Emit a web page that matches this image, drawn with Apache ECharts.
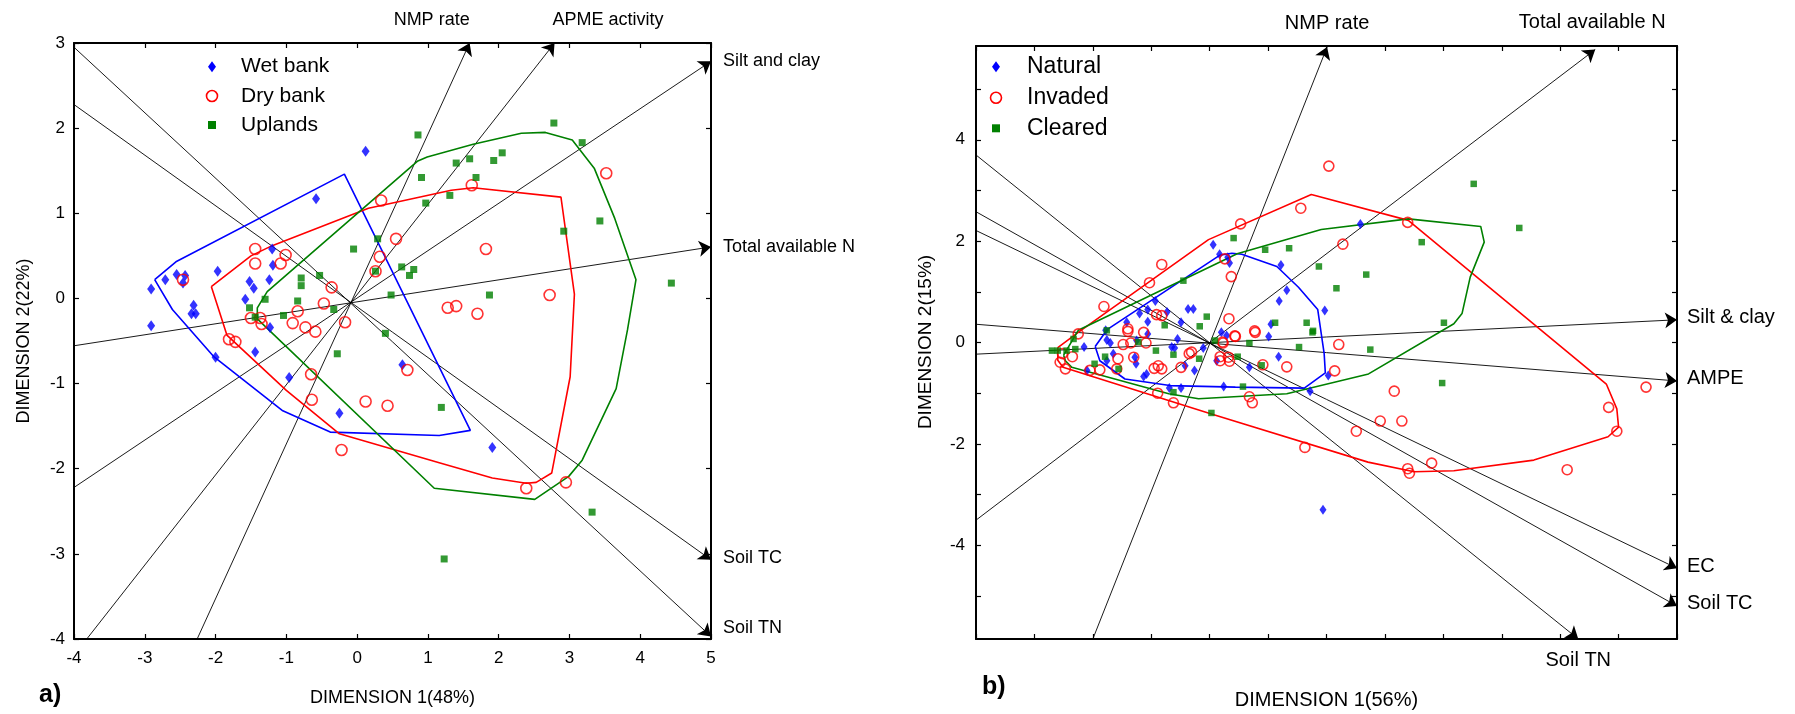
<!DOCTYPE html>
<html><head><meta charset="utf-8">
<script src="https://cdn.jsdelivr.net/npm/echarts@6/dist/echarts.min.js"></script>
<style>html,body{margin:0;padding:0;background:#fff}#c{width:1795px;height:714px}</style>
</head><body><div id="c"></div><script>
// ---------------- Panel a) ----------------
const aXTicks = [-4,-3,-2,-1,0,1,2,3,4,5];
const aYTicks = [-4,-3,-2,-1,0,1,2,3];
const aSeriesNames = ['Wet bank','Dry bank','Uplands'];
const aWetBank = [[-2.91,0.11],[-2.71,0.22],[-2.55,0.28],[-2.43,0.27],[-2.46,0.18],[-1.97,0.32],[-2.31,-0.08],[-2.34,-0.18],[-2.28,-0.18],[-2.91,-0.32],[-1.52,0.20],[-1.46,0.12],[-1.58,-0.01],[-1.24,0.22],[-1.19,0.39],[-1.20,0.58],[-1.23,-0.34],[-2.00,-0.69],[-1.44,-0.63],[-0.96,-0.93],[-0.25,-1.35],[0.64,-0.78],[1.91,-1.75],[0.12,1.73],[-0.58,1.17]];
const aDryBank = [[-2.46,0.22],[-1.44,0.58],[-1.44,0.41],[-1.01,0.51],[-1.08,0.41],[-0.36,0.13],[-0.47,-0.06],[-0.84,-0.15],[-1.50,-0.23],[-1.37,-0.23],[-1.35,-0.30],[-0.91,-0.29],[-0.73,-0.34],[-0.59,-0.39],[-0.17,-0.28],[-1.81,-0.48],[-1.72,-0.51],[-0.65,-0.89],[-0.64,-1.19],[0.12,-1.21],[0.43,-1.26],[0.71,-0.84],[-0.22,-1.78],[2.39,-2.23],[2.95,-2.16],[0.34,1.15],[0.55,0.70],[0.32,0.49],[0.26,0.32],[1.62,1.33],[3.52,1.47],[1.82,0.58],[2.72,0.04],[1.28,-0.11],[1.40,-0.09],[1.70,-0.18]];
const aUplands = [[2.78,2.06],[0.86,1.92],[3.18,1.83],[1.40,1.59],[1.59,1.64],[1.93,1.62],[2.05,1.71],[0.91,1.42],[1.68,1.42],[1.31,1.21],[0.97,1.12],[3.43,0.91],[2.92,0.79],[4.44,0.18],[0.29,0.70],[-0.05,0.58],[0.63,0.37],[0.80,0.34],[0.74,0.27],[0.48,0.04],[1.87,0.04],[0.26,0.32],[-0.79,0.24],[-0.79,0.15],[-0.53,0.27],[-1.30,-0.01],[-1.52,-0.11],[-0.84,-0.03],[-1.04,-0.20],[-1.44,-0.22],[-0.33,-0.13],[-0.28,-0.65],[0.40,-0.41],[1.19,-1.28],[3.32,-2.51],[1.23,-3.06]];
const aHullWet = [[-2.86,0.22],[-2.56,0.43],[-0.18,1.46],[1.60,-1.55],[1.16,-1.61],[-0.38,-1.57],[-1.05,-1.32],[-2.03,-0.68],[-2.61,-0.13],[-2.86,0.22]];
const aHullDry = [[-2.06,0.14],[-1.50,0.50],[-1.20,0.62],[0.16,1.06],[1.33,1.27],[1.64,1.30],[2.88,1.19],[3.07,0.05],[3.01,-0.92],[2.75,-2.05],[2.53,-2.16],[2.39,-2.17],[1.91,-2.11],[1.16,-1.93],[-0.25,-1.59],[-1.00,-1.08],[-1.84,-0.43],[-2.06,0.14]];
const aHullUp = [[-1.41,-0.24],[-1.41,-0.11],[-1.27,0.08],[0.85,1.61],[0.99,1.66],[1.64,1.81],[2.32,1.94],[2.66,1.95],[3.04,1.86],[3.35,1.53],[3.64,0.94],[3.94,0.22],[3.82,-0.37],[3.66,-1.06],[3.18,-1.90],[2.99,-2.09],[2.51,-2.36],[1.09,-2.23],[-1.41,-0.24]];
const aVectorNames = ['NMP rate','APME activity','Silt and clay','Total available N','Soil TC','Soil TN'];
const aVectorStart = [[-2.26,-4],[-3.82,-4],[-4,-2.22],[-4,-0.556],[-4,2.277],[-4,2.95]];
const aVectorEnd = [[1.59,3],[2.79,3],[5,2.785],[5,0.605],[5,-3.07],[5,-3.97]];

// ---------------- Panel b) ----------------
const bXTicks = [-4,-3,-2,-1,0,1,2,3,4,5,6,7,8];
const bYTicks = [-5,-4,-3,-2,-1,0,1,2,3,4,5];
const bYTickLabels = [-4,-2,0,2,4];
const bSeriesNames = ['Natural','Invaded','Cleared'];
const bNatural = [[0.17,1.74],[0.31,1.68],[0.06,1.93],[-0.93,0.82],[-1.20,0.57],[-1.06,0.65],[-0.73,0.60],[-0.37,0.66],[-0.28,0.66],[-0.49,0.40],[-1.06,0.41],[-1.42,0.40],[-1.78,0.24],[-1.76,0.05],[-1.70,-0.01],[-2.15,-0.09],[-1.06,0.17],[-1.25,0.04],[-0.55,0.07],[-0.65,-0.09],[-0.60,-0.11],[-0.11,-0.11],[0.20,0.20],[0.29,0.14],[0.12,-0.36],[-1.65,-0.22],[-1.76,-0.36],[-1.28,-0.29],[-1.26,-0.42],[-0.42,-0.46],[-0.26,-0.55],[-1.08,-0.62],[-1.13,-0.67],[-2.10,-0.55],[-0.69,-0.90],[-0.49,-0.90],[0.24,-0.87],[2.58,2.34],[1.22,1.53],[1.32,1.03],[1.19,0.82],[1.97,0.63],[1.05,0.36],[1.01,0.12],[0.34,1.57],[1.18,-0.28],[0.68,-0.49],[2.03,-0.65],[1.72,-0.96],[1.94,-3.30]];
const bInvaded = [[-0.82,1.54],[-1.03,1.18],[-1.81,0.71],[-2.25,0.17],[-1.40,0.27],[-1.40,0.22],[-1.13,0.20],[-0.82,0.53],[-0.91,0.55],[-1.48,-0.04],[-1.35,-0.01],[-1.09,-0.01],[-2.35,-0.28],[-2.52,-0.22],[-2.47,-0.52],[-2.56,-0.39],[-1.57,-0.32],[-1.30,-0.29],[-1.59,-0.52],[-0.95,-0.51],[-0.88,-0.46],[-0.82,-0.52],[-0.49,-0.49],[-0.35,-0.22],[-0.31,-0.19],[-2.05,-0.55],[-1.88,-0.54],[-0.89,-1.00],[-0.62,-1.19],[0.22,0.01],[0.18,-0.28],[0.32,-0.29],[2.04,3.48],[1.56,2.65],[0.53,2.34],[3.39,2.37],[2.28,1.94],[0.37,1.30],[0.33,0.47],[0.77,0.23],[0.43,0.13],[0.26,1.65],[2.21,-0.04],[2.14,-0.56],[1.32,-0.48],[0.91,-0.44],[3.16,-0.96],[7.47,-0.88],[6.83,-1.28],[6.97,-1.75],[2.92,-1.55],[3.29,-1.55],[2.51,-1.75],[1.63,-2.07],[3.39,-2.49],[3.42,-2.58],[3.80,-2.38],[6.12,-2.51],[0.68,-1.07],[0.73,-1.19],[0.44,0.12],[0.78,0.20],[0.18,-0.36],[0.34,-0.37],[0.23,-0.01]];
const bCleared = [[-0.45,1.22],[-0.77,0.34],[-0.05,0.51],[-0.17,0.32],[-0.92,-0.16],[-0.62,-0.24],[-0.18,-0.32],[-1.22,0.01],[-1.79,-0.28],[-1.97,-0.42],[-1.56,-0.52],[-2.30,-0.13],[-2.45,-0.16],[-2.60,-0.16],[-2.70,-0.16],[-2.33,0.07],[-0.62,-0.98],[-1.76,0.24],[0.09,0.04],[4.52,3.13],[5.30,2.26],[3.63,1.98],[0.41,2.06],[0.95,1.83],[1.36,1.86],[1.87,1.50],[2.68,1.34],[2.17,1.07],[4.01,0.39],[1.12,0.39],[1.66,0.39],[1.77,0.23],[0.68,-0.01],[1.53,-0.09],[2.75,-0.14],[3.98,-0.80],[0.89,-0.45],[0.57,-0.87],[0.03,-1.39],[0.48,-0.28],[1.76,0.20]];
const bHullNatural = [[-1.96,-0.08],[-1.75,0.26],[0.17,1.72],[0.38,1.76],[0.55,1.74],[1.15,1.50],[1.52,1.09],[1.85,0.65],[1.96,-0.22],[1.98,-0.60],[1.62,-0.90],[0.44,-0.88],[-0.68,-0.85],[-1.45,-0.72],[-1.88,-0.36],[-1.96,-0.08]];
const bHullInvaded = [[-2.60,-0.10],[-2.25,0.20],[-0.02,2.03],[1.74,2.92],[3.40,2.41],[6.79,-0.82],[6.97,-1.31],[7.00,-1.67],[6.82,-1.86],[5.55,-2.32],[4.18,-2.53],[3.50,-2.55],[2.71,-2.36],[0.03,-1.41],[-2.51,-0.49],[-2.60,-0.35],[-2.60,-0.10]];
const bHullCleared = [[-2.50,-0.25],[-2.25,0.24],[0.47,1.75],[1.91,2.23],[3.40,2.44],[4.64,2.29],[4.70,1.98],[4.46,1.29],[4.32,0.57],[4.18,0.37],[2.72,-0.62],[1.32,-1.01],[-0.19,-1.11],[-0.70,-1.01],[-2.36,-0.49],[-2.47,-0.36],[-2.50,-0.25]];
const bVectorNames = ['NMP rate','Total available N','Silt & clay','AMPE','EC','Soil TC','Soil TN'];
const bVectorStart = [[-2.0,-5.85],[-4,-3.505],[-4,-0.23],[-4,0.36],[-4,2.21],[-4,2.58],[-4,3.70]];
const bVectorEnd = [[2.01,5.83],[6.6,5.78],[8,0.448],[8,-0.759],[8,-4.455],[8,-5.2],[6.31,-5.85]];

// ---------------- styling ----------------
const FONT = "'Liberation Sans', Arial, sans-serif";
const BLUE = '#0000ff', RED = '#ff0000', GREEN = '#008000';

const chart = echarts.init(document.getElementById('c'), null, {renderer: 'canvas'});

function xAx(grid, ticks, pos, showLabel, fs) {
  return {type:'value', gridIndex:grid, position:pos, min:ticks[0], max:ticks[ticks.length-1], interval:1,
    axisLine:{show:true, onZero:false, lineStyle:{color:'#000', width:2}},
    axisTick:{show:true, inside:true, length:5, lineStyle:{color:'#000', width:1.2}},
    axisLabel:{show:showLabel, color:'#000', fontSize:fs, fontFamily:FONT, margin:11},
    splitLine:{show:false}};
}
function yAx(grid, ticks, pos, showLabel, fs) {
  return {type:'value', gridIndex:grid, position:pos, min:ticks[0], max:ticks[ticks.length-1], interval:1,
    axisLine:{show:true, onZero:false, lineStyle:{color:'#000', width:2}},
    axisTick:{show:true, inside:true, length:5, lineStyle:{color:'#000', width:1.2}},
    axisLabel:{show:showLabel, color:'#000', fontSize:fs, fontFamily:FONT, margin:9},
    splitLine:{show:false}};
}
function yAxB(pos, showLabel) {
  return {type:'value', gridIndex:1, position:pos, min:-5.85, max:5.85,
    axisLine:{show:true, onZero:false, lineStyle:{color:'#000', width:2}},
    axisTick:{show:true, inside:true, length:5, customValues:bYTicks, lineStyle:{color:'#000', width:1.2}},
    axisLabel:{show:showLabel, customValues:bYTickLabels, color:'#000', fontSize:17, fontFamily:FONT, margin:11},
    splitLine:{show:false}};
}
function hull(name, data, color, xi, yi) {
  return {type:'line', name, data, xAxisIndex:xi, yAxisIndex:yi, showSymbol:false, symbol:'none', silent:true,
    lineStyle:{color, width:1.6}, z:3};
}
function vectors(starts, ends, xi, yi) {
  return {type:'lines', coordinateSystem:'cartesian2d', xAxisIndex:xi, yAxisIndex:yi, silent:true,
    symbol:['none','arrow'], symbolSize:12, z:2,
    lineStyle:{color:'#000', width:0.9, opacity:1, curveness:0},
    data: starts.map((s,i)=>({coords:[s, ends[i]]}))};
}

const option = {
  animation:false,
  backgroundColor:'#fff',
  grid:[
    {left:74, top:43, width:637, height:596},
    {left:976, top:46, width:701, height:593}
  ],
  xAxis:[ xAx(0,aXTicks,'bottom',true,17), xAx(0,aXTicks,'top',false,17),
          xAx(1,bXTicks,'bottom',false,17), xAx(1,bXTicks,'top',false,17) ],
  yAxis:[ yAx(0,aYTicks,'left',true,17), yAx(0,aYTicks,'right',false,17),
          yAxB('left',true), yAxB('right',false) ],
  series:[
    vectors(aVectorStart, aVectorEnd, 0, 0),
    vectors(bVectorStart, bVectorEnd, 2, 2),
    hull('hull-wet', aHullWet, BLUE, 0, 0),
    hull('hull-dry', aHullDry, RED, 0, 0),
    hull('hull-up', aHullUp, GREEN, 0, 0),
    hull('hull-nat', bHullNatural, BLUE, 2, 2),
    hull('hull-inv', bHullInvaded, RED, 2, 2),
    hull('hull-clr', bHullCleared, GREEN, 2, 2),
    {type:'scatter', name:aSeriesNames[0], data:aWetBank, xAxisIndex:0, yAxisIndex:0, symbol:'diamond', symbolSize:[8,11], itemStyle:{color:BLUE}, z:5},
    {type:'scatter', name:aSeriesNames[1], data:aDryBank, xAxisIndex:0, yAxisIndex:0, symbol:'circle', symbolSize:11, itemStyle:{color:'rgba(0,0,0,0)', borderColor:RED, borderWidth:1.6}, z:5},
    {type:'scatter', name:aSeriesNames[2], data:aUplands, xAxisIndex:0, yAxisIndex:0, symbol:'rect', symbolSize:7, itemStyle:{color:GREEN}, z:5},
    {type:'scatter', name:bSeriesNames[0], data:bNatural, xAxisIndex:2, yAxisIndex:2, symbol:'diamond', symbolSize:[7,10], itemStyle:{color:BLUE}, z:5},
    {type:'scatter', name:bSeriesNames[1], data:bInvaded, xAxisIndex:2, yAxisIndex:2, symbol:'circle', symbolSize:10, itemStyle:{color:'rgba(0,0,0,0)', borderColor:RED, borderWidth:1.6}, z:5},
    {type:'scatter', name:bSeriesNames[2], data:bCleared, xAxisIndex:2, yAxisIndex:2, symbol:'rect', symbolSize:6.5, itemStyle:{color:GREEN}, z:5}
  ]
};
chart.setOption(option);

// label placement (style only): offsets from each vector's arrow tip
const aLabelPlace = [
  {dx:0, dy:-23, align:'right'}, {dx:-2, dy:-23, align:'left'}, {dx:12, dy:0, align:'left'},
  {dx:12, dy:0, align:'left'}, {dx:12, dy:-2, align:'left'}, {dx:12, dy:-8, align:'left'}
];
const bLabelPlace = [
  {dx:0, dy:-24, align:'center'}, {dx:-3, dy:-27, align:'center'}, {dx:10, dy:-2, align:'left'},
  {dx:10, dy:-2, align:'left'}, {dx:10, dy:-2, align:'left'}, {dx:10, dy:-3, align:'left'},
  {dx:0, dy:21, align:'center'}
];
function txt(x, y, text, font, align, rot) {
  return {type:'text', x, y, rotation:rot||0, silent:true, z:10,
    style:{text, font, fill:'#000', align:align||'center', verticalAlign:'middle', textAlign:align||'center', textVerticalAlign:'middle'}};
}
function vectorLabels(names, ends, place, ai, font) {
  return names.map((n,i)=>{
    const p = chart.convertToPixel({xAxisIndex:ai, yAxisIndex:ai}, ends[i]);
    return txt(p[0]+place[i].dx, p[1]+place[i].dy, n, font, place[i].align);
  });
}
// legend drawn as graphic key (symbol + text) for each panel
function legendKey(names, sx, tx, rows, font, sizes) {
  const out = [];
  names.forEach((n,i)=>{
    const cy = rows[i];
    if (i === 0) {
      const w = sizes.dw/2, h = sizes.dh/2;
      out.push({type:'polygon', silent:true, z:10, shape:{points:[[sx,cy-h],[sx+w,cy],[sx,cy+h],[sx-w,cy]]}, style:{fill:BLUE}});
    } else if (i === 1) {
      out.push({type:'circle', silent:true, z:10, shape:{cx:sx, cy, r:sizes.r}, style:{fill:'none', stroke:RED, lineWidth:1.6}});
    } else {
      const s = sizes.s;
      out.push({type:'rect', silent:true, z:10, shape:{x:sx-s/2, y:cy-s/2, width:s, height:s}, style:{fill:GREEN}});
    }
    out.push(txt(tx, cy, n, font, 'left'));
  });
  return out;
}
const graphics = [
  txt(392.5, 698, 'DIMENSION 1(48%)', '18px ' + FONT),
  txt(24, 341, 'DIMENSION 2(22%)', '18px ' + FONT, 'center', Math.PI/2),
  txt(1326.5, 700, 'DIMENSION 1(56%)', '20px ' + FONT),
  txt(925.5, 342, 'DIMENSION 2(15%)', '19px ' + FONT, 'center', Math.PI/2),
  txt(39, 695, 'a)', 'bold 25px ' + FONT, 'left'),
  txt(982, 687, 'b)', 'bold 25px ' + FONT, 'left')
].concat(vectorLabels(aVectorNames, aVectorEnd, aLabelPlace, 0, '18px ' + FONT))
 .concat(vectorLabels(bVectorNames, bVectorEnd, bLabelPlace, 2, '20px ' + FONT))
 .concat(legendKey(aSeriesNames, 212, 241, [66.7, 96, 125], '21px ' + FONT, {dw:8, dh:11, r:5.5, s:8}))
 .concat(legendKey(bSeriesNames, 996, 1027, [66.7, 97.7, 128.3], '23px ' + FONT, {dw:8, dh:11, r:5.5, s:8}));
chart.setOption({graphic: graphics});
</script></body></html>
